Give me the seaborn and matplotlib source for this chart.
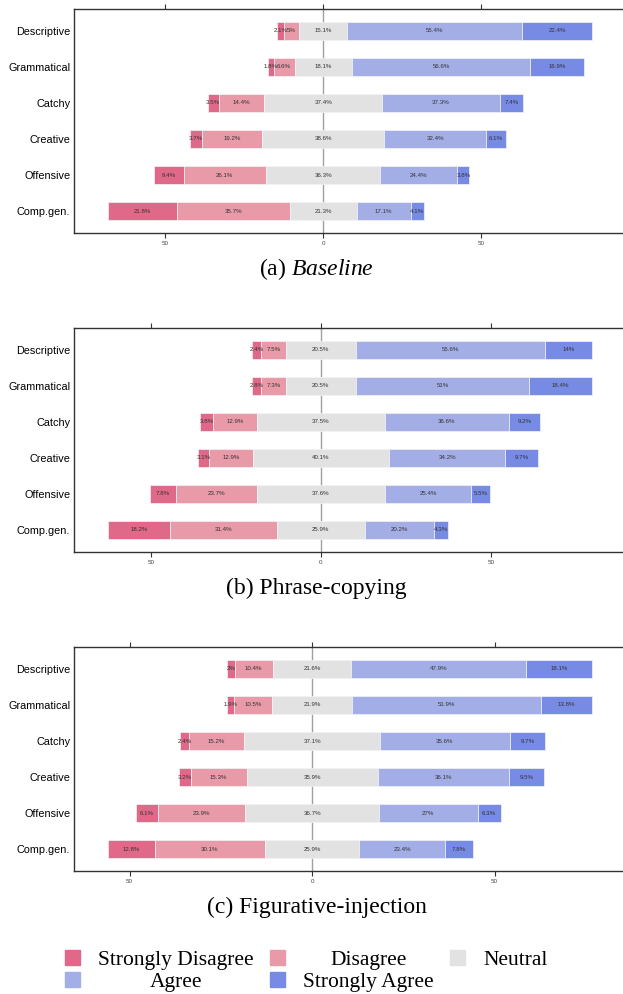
import matplotlib.pyplot as plt
import matplotlib.patches as mpatches
from matplotlib.ticker import FuncFormatter, MultipleLocator
import numpy as np
import seaborn as sns

criteria = ["Descriptive", "Grammatical", "Catchy", "Creative", "Offensive", "Comp.gen."]
levels = ["Strongly Disagree", "Disagree", "Neutral", "Agree", "Strongly Agree"]
colors = ["#e0698a", "#e89aa9", "#e2e2e2", "#a3aee6", "#778ae4"]

# (a) Baseline
baseline_sd = [2.1, 1.8, 3.5, 3.7, 9.4, 21.8]
baseline_d = [5, 6.6, 14.4, 19.2, 26.1, 35.7]
baseline_n = [15.1, 18.1, 37.4, 38.6, 36.3, 21.3]
baseline_a = [55.4, 56.6, 37.3, 32.4, 24.4, 17.1]
baseline_sa = [22.4, 16.9, 7.4, 6.1, 3.8, 4.1]

# (b) Phrase-copying
copying_sd = [2.4, 2.8, 3.8, 3.1, 7.8, 18.2]
copying_d = [7.5, 7.3, 12.9, 12.9, 23.7, 31.4]
copying_n = [20.5, 20.5, 37.5, 40.1, 37.6, 25.9]
copying_a = [55.6, 51, 36.6, 34.2, 25.4, 20.2]
copying_sa = [14, 18.4, 9.2, 9.7, 5.5, 4.3]

# (c) Figurative-injection
figurative_sd = [2, 1.9, 2.4, 3.2, 6.1, 12.8]
figurative_d = [10.4, 10.5, 15.2, 15.3, 23.9, 30.1]
figurative_n = [21.6, 21.9, 37.1, 35.9, 36.7, 25.9]
figurative_a = [47.9, 51.9, 35.6, 36.1, 27, 23.4]
figurative_sa = [18.1, 13.8, 9.7, 9.5, 6.3, 7.8]

panels = [
    ("(a) $\\mathit{Baseline}$", [baseline_sd, baseline_d, baseline_n, baseline_a, baseline_sa]),
    ("(b) Phrase-copying", [copying_sd, copying_d, copying_n, copying_a, copying_sa]),
    ("(c) Figurative-injection", [figurative_sd, figurative_d, figurative_n, figurative_a, figurative_sa]),
]

sns.set_style("ticks")
plt.rcParams["font.family"] = ["Liberation Sans", "DejaVu Sans"]
plt.rcParams["mathtext.fontset"] = "custom"
plt.rcParams["mathtext.rm"] = "Liberation Serif"
plt.rcParams["mathtext.it"] = "Liberation Serif:italic"

fig = plt.figure(figsize=(6.23, 9.94), dpi=100)
bottoms = [0.7656, 0.4447, 0.1237]

for (caption, series), bottom in zip(panels, bottoms):
    ax = fig.add_axes([0.1193, bottom, 0.886, 0.2254])
    values = np.array(series, dtype=float)
    left = -(values[0] + values[1] + values[2] / 2)
    lo, hi = left.min(), (left + values.sum(axis=0)).max()

    for vals, color in zip(values, colors):
        sns.barplot(x=vals, y=criteria, left=left, color=color, saturation=1,
                    width=0.5, errorbar=None, edgecolor="#f4f4f8", linewidth=0.5, ax=ax)
        ax.bar_label(ax.containers[-1], labels=[f"{v:g}%" for v in vals],
                     label_type="center", fontsize=4.4, color="#333333")
        left = left + vals

    ax.axvline(0, color="#a0a0a0", lw=1, zorder=0)
    span = hi - lo
    ax.set_xlim(lo - 0.07 * span, hi + 0.07 * span)
    ax.set_ylim(len(criteria) - 0.39, -0.61)
    ax.xaxis.set_major_locator(MultipleLocator(50))
    ax.xaxis.set_major_formatter(FuncFormatter(lambda v, p: f"{abs(v):g}"))
    ax.set_xlabel("")
    ax.set_ylabel("")
    ax.tick_params(axis="x", top=True, bottom=True, direction="out", length=3.5,
                   width=0.8, color="#333333", labelsize=4.5, labelcolor="#444444", pad=2)
    ax.tick_params(axis="y", length=0, labelsize=7.8, pad=3, labelcolor="black")
    ax.spines["right"].set_visible(False)
    for side in ["top", "left", "bottom"]:
        ax.spines[side].set_color("#333333")
        ax.spines[side].set_linewidth(1)

    fig.text(0.508, bottom - 36 / 994, caption, ha="center", va="center",
             fontsize=17, family="Liberation Serif", color="black")

handles = [mpatches.Patch(color=c) for c in colors]
order = [0, 3, 1, 4, 2]
leg = fig.legend(handles=[handles[i] for i in order], labels=[levels[i] for i in order],
                 ncol=3, loc="upper left", bbox_to_anchor=(65 / 623, 1 - 950 / 994),
                 frameon=False, prop={"family": "Liberation Serif", "size": 15.5},
                 labelcolor="black", handlelength=0.7, handleheight=0.7,
                 handletextpad=0.84, columnspacing=0.76, labelspacing=0.1,
                 borderpad=0, borderaxespad=0)

# centre each label inside its legend column
fig.canvas.draw()
renderer = fig.canvas.get_renderer()
for col in [[0, 1], [2, 3], [4]]:
    widths = [leg.texts[i].get_window_extent(renderer).width for i in col]
    for i, w in zip(col, widths):
        leg.texts[i].set_x((max(widths) - w) / 2)

fig.savefig("out.png", dpi=100)
